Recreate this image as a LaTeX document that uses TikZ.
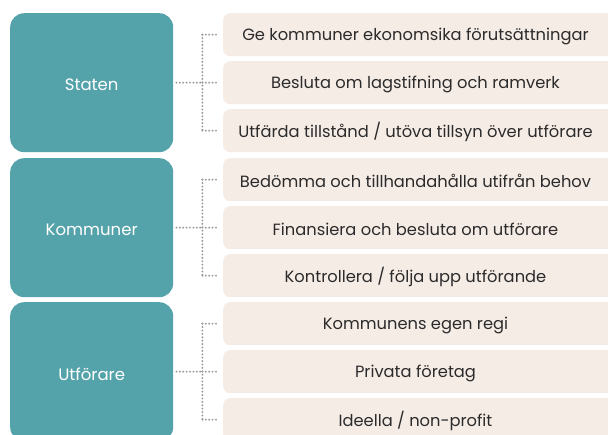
\documentclass[tikz,border=0pt]{standalone}
\usepackage{fontspec}
\setmainfont{Poppins}
\definecolor{teal1}{HTML}{55A3AA}
\definecolor{beige1}{HTML}{F6ECE6}
\definecolor{dotg}{HTML}{98989C}
\definecolor{txt}{HTML}{2B2B2B}
\begin{document}
\begin{tikzpicture}[x=1pt,y=-1pt,
  lbox/.style={fill=teal1,draw=none,rounded corners=14pt,minimum width=163pt,minimum height=139pt,anchor=north west,inner sep=0pt},
  ltext/.style={text=white,font=\fontsize{16.5}{19}\selectfont,yshift=-2.5pt},
  rbox/.style={fill=beige1,draw=none,rounded corners=7pt,minimum width=392pt,minimum height=43pt,anchor=north west,inner sep=0pt},
  rtext/.style={text=txt,font=\fontsize{16.3}{19}\selectfont,yshift=-1.5pt},
  dotline/.style={draw=dotg,line width=2.1pt,dash pattern=on 0pt off 3.4pt,line cap=round}]
\useasboundingbox (0,0) rectangle (608,435);
\begin{scope}
\clip (0,0) rectangle (608,435);
% left boxes
\node[lbox] (s) at (10,13) {};
\node[lbox] (k) at (10,158) {};
\node[lbox] (u) at (10,302) {};
\node[ltext] (st) at (s.center) {Staten};
\node[ltext] (kt) at (k.center) {Kommuner};
\node[ltext] (ut) at (u.center) {Utförare};
% right boxes
\foreach \n/\y in {a1/13,a2/61,a3/109,b1/158,b2/206,b3/254,c1/302,c2/350,c3/398}{
  \node[rbox] (\n) at (223,\y) {};
}
\node[rtext] (ta1) at (415.5,34.5) {Ge kommuner ekonomsika förutsättningar};
\node[rtext] (ta2) at (415.5,82.5) {Besluta om lagstifning och ramverk};
\node[rtext] (ta3) at (415.5,130.5) {Utfärda tillstånd / utöva tillsyn över utförare};
\node[rtext] (tb1) at (415.5,179.5) {Bedömma och tillhandahålla utifrån behov};
\node[rtext] (tb2) at (415.5,227.5) {Finansiera och besluta om utförare};
\node[rtext] (tb3) at (415.5,275.5) {Kontrollera / följa upp utförande};
\node[rtext] (tc1) at (415.5,323.5) {Kommunens egen regi};
\node[rtext] (tc2) at (415.5,371.5) {Privata företag};
\node[rtext] (tc3) at (415.5,419.5) {Ideella / non-profit};
% connectors
\foreach \l/\p/\q/\r in {s/a1/a2/a3,k/b1/b2/b3,u/c1/c2/c3}{
  \coordinate (\l j) at ([xshift=29pt]\l.east);
  \draw[dotline] ([xshift=3pt]\l.east) -- (\l j);
  \draw[dotline] (\l j |- \p.west) -- (\l j |- \r.west);
  \draw[dotline] (\l j |- \p.west) -- ([xshift=-4pt]\p.west);
  \draw[dotline] (\l j |- \q.west) -- ([xshift=-4pt]\q.west);
  \draw[dotline] (\l j |- \r.west) -- ([xshift=-4pt]\r.west);
}
\end{scope}
\end{tikzpicture}
\end{document}
